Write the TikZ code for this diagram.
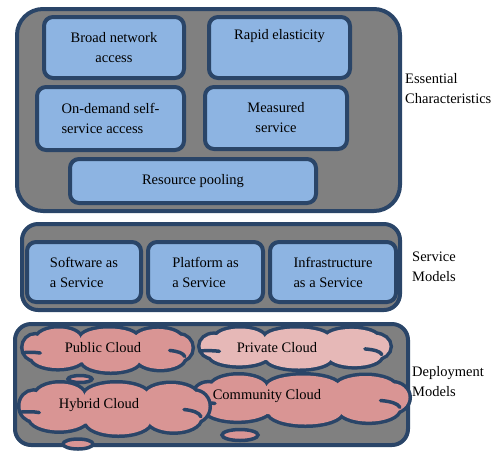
\documentclass[tikz,border=0pt]{standalone}
\usepackage{fontspec}
\setmainfont{Liberation Serif}
\usetikzlibrary{shapes.geometric}
\definecolor{bord}{HTML}{2A4568}
\definecolor{cont}{HTML}{808080}
\definecolor{boxf}{HTML}{8DB4E2}
\definecolor{cldA}{HTML}{D99594}
\definecolor{cldB}{HTML}{E6B8B7}
% office-like cloud: #1,#2 centre, #3,#4 inner half sizes, #5 fill colour
\newcommand\officecloud[5]{%
  \begin{scope}[shift={(#1,#2)}, xscale=#3, yscale=#4]
    \foreach \cx/\cy/\rx/\ry in {-0.86/-0.12/0.14/0.56, -0.58/-0.50/0.26/0.50, 0.02/-0.52/0.34/0.48, 0.60/-0.50/0.28/0.48, 0.85/-0.10/0.15/0.58, 0.63/0.36/0.28/0.52, 0.04/0.48/0.34/0.52, -0.59/0.32/0.31/0.52}
      \draw[bord, line width=7pt] (\cx,\cy) ellipse [x radius=\rx, y radius=\ry];
    \foreach \cx/\cy/\rx/\ry in {-0.86/-0.12/0.14/0.56, -0.58/-0.50/0.26/0.50, 0.02/-0.52/0.34/0.48, 0.60/-0.50/0.28/0.48, 0.85/-0.10/0.15/0.58, 0.63/0.36/0.28/0.52, 0.04/0.48/0.34/0.52, -0.59/0.32/0.31/0.52}
      \fill[#5] (\cx,\cy) ellipse [x radius=\rx, y radius=\ry];
    \fill[#5] (0,0) ellipse [x radius=0.8, y radius=0.62];
    \draw[bord, line width=3.5pt, line cap=round] (0.74,0.02) .. controls (0.84,0.06) and (0.9,0.14) .. (0.92,0.3);
    \draw[bord, line width=3.5pt, line cap=round] (-1.0,0.12) .. controls (-0.94,0.1) and (-0.86,0.1) .. (-0.8,0.14);
  \end{scope}}
\begin{document}
\begin{tikzpicture}[x=1pt,y=-1pt,
  font=\fontsize{14.5}{20}\selectfont,
  container/.style={draw=bord, fill=cont, line width=4pt, rectangle, inner sep=0pt},
  featbox/.style={draw=bord, fill=boxf, line width=4pt, rectangle, rounded corners=9pt, inner sep=0pt, align=center},
  puff/.style={ellipse, draw=bord, fill=cldA, line width=3.5pt, inner sep=0pt},
  sidelabel/.style={anchor=west, align=left, inner sep=0pt}]
\useasboundingbox (0,0) rectangle (497,451);
% Essential characteristics
\node[container, rounded corners=26pt, minimum width=383pt, minimum height=202pt] (ec) at (208.5,110) {};
\node[featbox, minimum width=140pt, minimum height=61pt] (bna) at (114,47.5) {Broad network\\access};
\node[featbox, minimum width=141pt, minimum height=61pt] (re) at (279.5,47.5) {Rapid elasticity\\\strut};
\node[featbox, minimum width=147pt, minimum height=63pt, align=left] (ods) at (110.5,118.5) {On-demand self-\\service access};
\node[featbox, minimum width=142pt, minimum height=62pt] (ms) at (276,118) {Measured\\service};
\node[featbox, minimum width=246pt, minimum height=44pt] (rp) at (193,181) {Resource pooling};
\node[sidelabel] (ecl) at (405,89) {Essential\\Characteristics};
% Service models
\node[container, rounded corners=16pt, minimum width=378pt, minimum height=86pt] (sm) at (211,267) {};
\node[featbox, align=left, minimum width=114pt, minimum height=60pt] (saas) at (84,272) {Software as\\a Service};
\node[featbox, align=left, minimum width=115pt, minimum height=60pt] (paas) at (205.5,272) {Platform as\\a Service};
\node[featbox, align=left, minimum width=126pt, minimum height=60pt] (iaas) at (333,272) {Infrastructure\\as a Service};
\node[sidelabel] (sml) at (412,267) {Service\\Models};
% Deployment models
\node[container, rounded corners=16pt, minimum width=393pt, minimum height=121pt] (dm) at (211.5,384.5) {};
\node[puff, minimum width=24pt, minimum height=7pt] (p1) at (80,379) {};
\officecloud{107.5}{350}{84}{21.5}{cldA}
\officecloud{295}{348.5}{94.5}{20}{cldB}
\node[puff, minimum width=36pt, minimum height=11pt] (p3) at (240,435) {};
\node[puff, minimum width=30pt, minimum height=10pt] (p2) at (78,444) {};
\officecloud{301}{400}{107.5}{24.5}{cldA}
\officecloud{114.5}{409}{94}{25.5}{cldA}
\node (pubt) at (103,348) {Public Cloud};
\node (privt) at (277,348) {Private Cloud};
\node (hybt) at (99,405) {Hybrid Cloud};
\node (commt) at (267,396) {Community Cloud};
\node[sidelabel] (dml) at (412,382) {Deployment\\Models};
\end{tikzpicture}
\end{document}
